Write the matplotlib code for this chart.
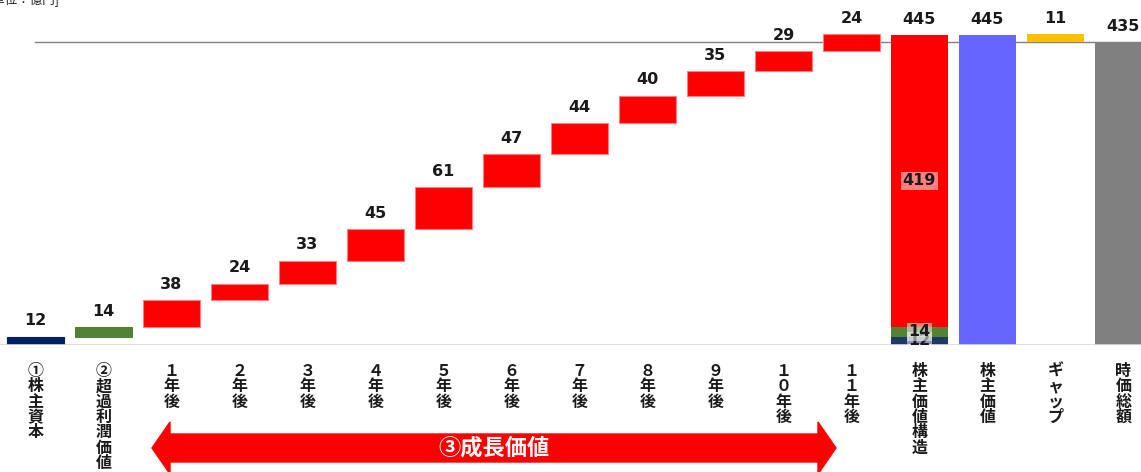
import matplotlib
matplotlib.use("Agg")
import matplotlib.pyplot as plt
import numpy as np
from matplotlib.transforms import blended_transform_factory
from matplotlib.patches import Polygon

plt.rcParams['font.family'] = ['Noto Sans CJK JP', 'DejaVu Sans']

# ---- data ----
categories = ["①\n株\n主\n資\n本", "②\n超\n過\n利\n潤\n価\n値",
              "１\n年\n後", "２\n年\n後", "３\n年\n後", "４\n年\n後", "５\n年\n後",
              "６\n年\n後", "７\n年\n後", "８\n年\n後", "９\n年\n後", "１\n０\n年\n後",
              "１\n１\n年\n後", "株\n主\n価\n値\n構\n造", "株\n主\n価\n値",
              "ギ\nャ\nッ\nプ", "時\n価\n総\n額"]
step_values = [12, 14, 38, 24, 33, 45, 61, 47, 44, 40, 35, 29, 24]
structure_values = [12, 14, 419]   # equity, excess profit, growth
structure_total = 445
shareholder_value = 445
gap_value = 11
market_cap = 435
arrow_label = "③成長価値"
unit_label = "[単位：億円]"

step_colors = ["#002060", "#548235"] + ["#FF0000"] * 11
struct_colors = ["#1F3864", "#548235", "#FF0000"]

fig = plt.figure(figsize=(11.41, 4.72), dpi=100)
ax = fig.add_axes([0, 1 - 345 / 472, 1, 345 / 472])
spacing = 68.0
c0 = 35.5
ax.set_xlim(-c0 / spacing, (1141 - c0) / spacing)
ax.set_ylim(0, 345 / (310 / 445))
width = 0.84

num_font = dict(family='DejaVu Sans', fontsize=11.5, fontweight='bold', color='#1a1a1a')

# waterfall steps
bottoms = np.concatenate([[0], np.cumsum(step_values)[:-1]])
for i, (v, b) in enumerate(zip(step_values, bottoms)):
    ec = '#FF7F7F' if step_colors[i] == "#FF0000" else step_colors[i]
    ax.bar(i, v, bottom=b, width=width, color=step_colors[i], edgecolor=ec, linewidth=0.8)
    ax.annotate(str(v), (i, b + v), xytext=(0, 6), textcoords='offset points',
                ha='center', va='bottom', **num_font)

# stacked structure bar
i = 13
b = 0
for v, c in zip(structure_values, struct_colors):
    ax.bar(i, v, bottom=b, width=width, color=c, linewidth=0)
    b += v
b = 0
for v in structure_values:
    ax.text(i, b + v / 2, str(v), ha='center', va='center', **num_font,
            bbox=dict(boxstyle='square,pad=0.1', facecolor='white', alpha=0.5, edgecolor='none'))
    b += v
ax.annotate(str(structure_total), (i, structure_total), xytext=(0, 6), textcoords='offset points',
            ha='center', va='bottom', **num_font)

# shareholder value
ax.bar(14, shareholder_value, width=width, color="#6666FF", linewidth=0)
ax.annotate(str(shareholder_value), (14, shareholder_value), xytext=(0, 6),
            textcoords='offset points', ha='center', va='bottom', **num_font)
# gap
ax.bar(15, gap_value, bottom=market_cap, width=width, color="#FFC000", linewidth=0)
ax.annotate(str(gap_value), (15, market_cap + gap_value), xytext=(0, 6),
            textcoords='offset points', ha='center', va='bottom', **num_font)
# market cap
ax.bar(16, market_cap, width=width, color="#808080", linewidth=0)
ax.annotate(str(market_cap), (16, market_cap), xytext=(0, 6),
            textcoords='offset points', ha='center', va='bottom', **num_font)

# reference line at market cap
ax.plot([0, ax.get_xlim()[1]], [market_cap, market_cap], color='#808080', lw=1, zorder=0.5)
ax.axhline(0, color='#D9D9D9', lw=1.2)

for s in ax.spines.values():
    s.set_visible(False)
ax.set_yticks([])
ax.set_xticks(range(len(categories)))
ax.set_xticklabels(categories, fontsize=11.5, fontweight='bold', linespacing=0.95,
                   va='top', color='#1a1a1a')
ax.tick_params(axis='x', length=0, pad=13)

# double-headed arrow
tr = blended_transform_factory(ax.transData, fig.transFigure)
x0 = (152 - c0) / spacing
x1 = (836 - c0) / spacing
hl = 18 / spacing
yc = 1 - 448 / 472
bh = 14 / 472
hh = 26 / 472
pts = [(x0, yc), (x0 + hl, yc + hh), (x0 + hl, yc + bh), (x1 - hl, yc + bh),
       (x1 - hl, yc + hh), (x1, yc), (x1 - hl, yc - hh), (x1 - hl, yc - bh),
       (x0 + hl, yc - bh), (x0 + hl, yc - hh)]
poly = Polygon(pts, closed=True, transform=tr, facecolor='#FF0000', edgecolor='#FF0000',
               clip_on=False)
fig.add_artist(poly)
fig.text((x0 + x1) / 2, yc, arrow_label, transform=tr, fontsize=16, fontweight='bold',
         color='white', ha='center', va='center')

fig.text(-0.01, 1.0, unit_label, fontsize=9, ha='left', va='center', color='#1a1a1a')

fig.savefig("out.png", dpi=100)
